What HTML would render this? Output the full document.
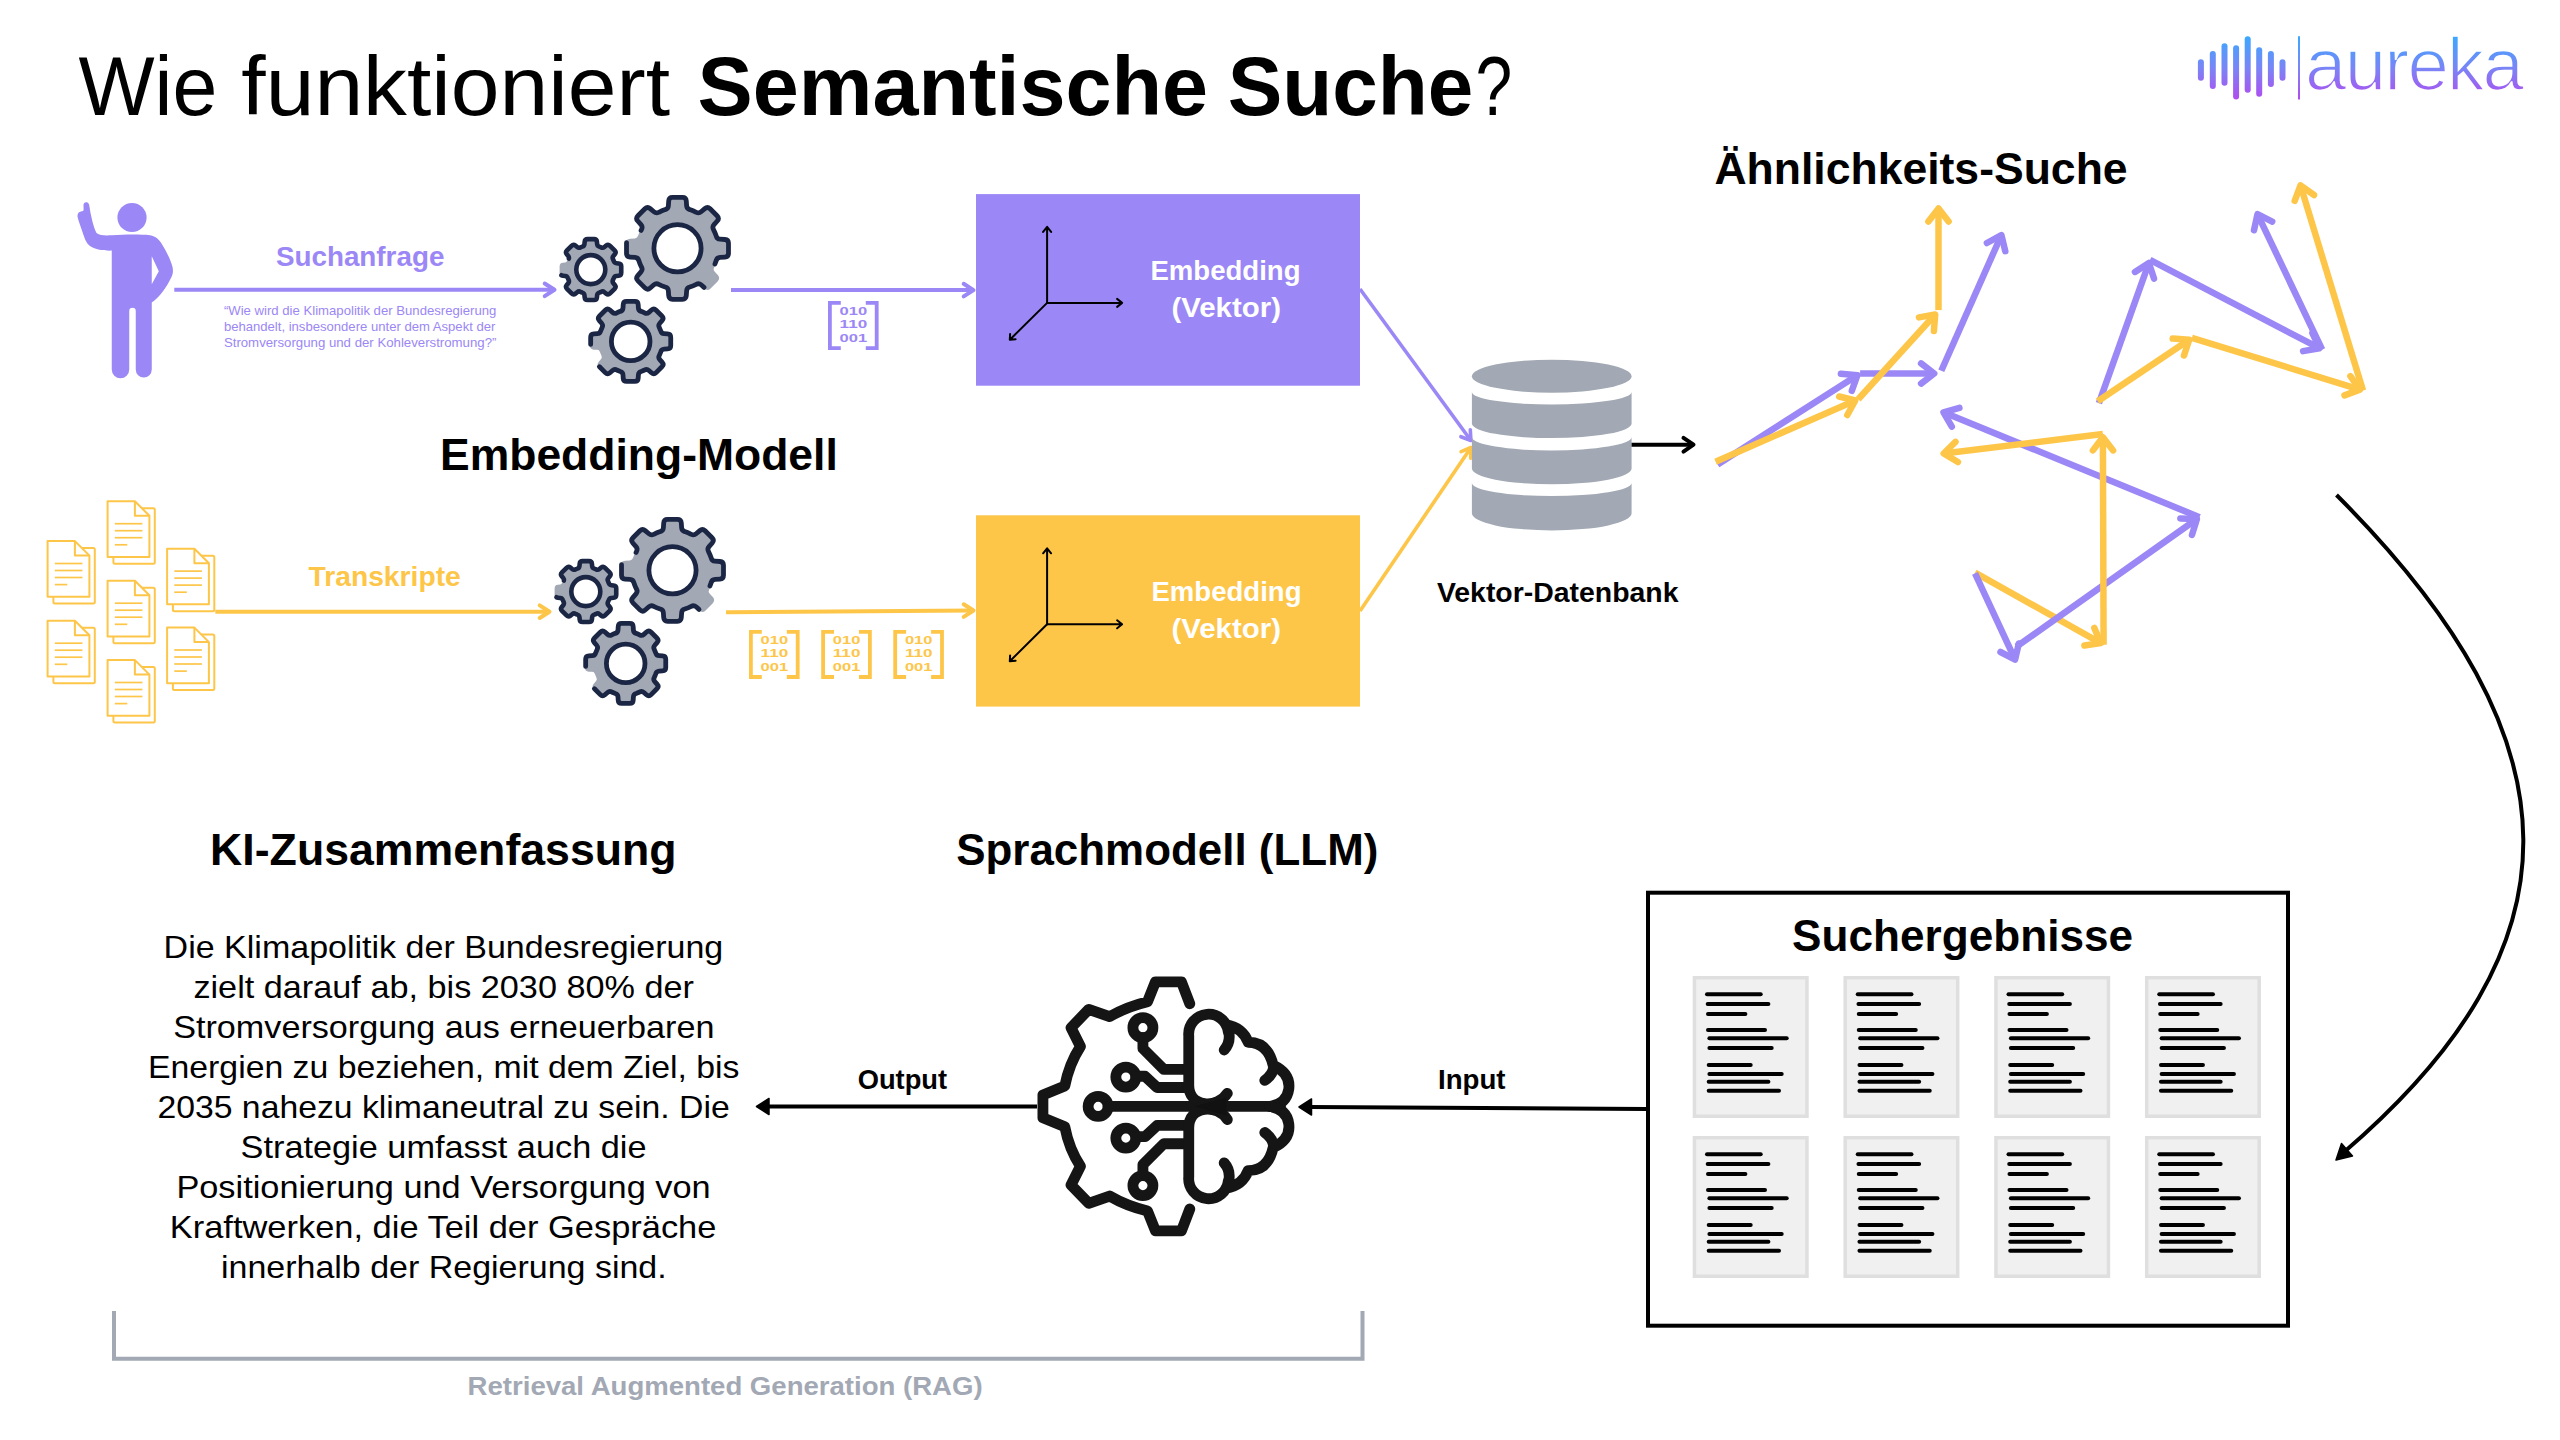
<!DOCTYPE html><html><head><meta charset="utf-8"><style>html,body{margin:0;padding:0;background:#fff}svg{display:block}text{font-family:"Liberation Sans",sans-serif;white-space:pre}</style></head><body><svg width="2560" height="1440" viewBox="0 0 2560 1440">
<text x="78.40" y="115.0" font-size="84" font-weight="normal" fill="#000" textLength="138.90" lengthAdjust="spacingAndGlyphs" >Wie</text>
<text x="241.30" y="115.0" font-size="84" font-weight="normal" fill="#000" textLength="428.70" lengthAdjust="spacingAndGlyphs" >funktioniert</text>
<text x="697.60" y="115.0" font-size="84" font-weight="bold" fill="#000" textLength="510.50" lengthAdjust="spacingAndGlyphs" >Semantische</text>
<text x="1227.70" y="115.0" font-size="84" font-weight="bold" fill="#000" textLength="245.60" lengthAdjust="spacingAndGlyphs" >Suche</text>
<text x="1475.40" y="115.0" font-size="84" font-weight="normal" fill="#000" textLength="36.70" lengthAdjust="spacingAndGlyphs" >?</text>
<defs><linearGradient id="lg" gradientUnits="userSpaceOnUse" x1="0" y1="36" x2="0" y2="100"><stop offset="0" stop-color="#3aa8ff"/><stop offset="0.5" stop-color="#7a85f6"/><stop offset="1" stop-color="#b24aef"/></linearGradient></defs>
<line x1="2200.9" y1="62.2" x2="2200.9" y2="77.8" stroke="url(#lg)" stroke-width="6" stroke-linecap="round"/>
<line x1="2212.8" y1="53.9" x2="2212.8" y2="85.9" stroke="url(#lg)" stroke-width="6" stroke-linecap="round"/>
<line x1="2224.5" y1="46.3" x2="2224.5" y2="82.8" stroke="url(#lg)" stroke-width="6" stroke-linecap="round"/>
<line x1="2236.1" y1="48.2" x2="2236.1" y2="96.5" stroke="url(#lg)" stroke-width="6" stroke-linecap="round"/>
<line x1="2247.7" y1="39.25" x2="2247.7" y2="89.8" stroke="url(#lg)" stroke-width="6" stroke-linecap="round"/>
<line x1="2259.2" y1="50.2" x2="2259.2" y2="93.7" stroke="url(#lg)" stroke-width="6" stroke-linecap="round"/>
<line x1="2270.9" y1="53.9" x2="2270.9" y2="83.9" stroke="url(#lg)" stroke-width="6" stroke-linecap="round"/>
<line x1="2282.5" y1="62.2" x2="2282.5" y2="77.8" stroke="url(#lg)" stroke-width="6" stroke-linecap="round"/>
<rect x="2298" y="36.2" width="2" height="63.3" fill="url(#lg)"/>
<text x="2305" y="90.3" font-size="74.5" fill="url(#lg)" stroke="#fff" stroke-width="1.7" textLength="219" lengthAdjust="spacing">aureka</text>
<circle cx="132" cy="217.5" r="14.6" fill="#9b87f5"/>
<path fill="#9b87f5" fill-rule="evenodd" d="M86.3 202.3 C88.2 202.3 89 203.6 89.3 205.5 C90.5 214 93 226 96.5 233 C100 235.8 106 235.6 112 235.3 C124 234.4 140 234.2 150 235.2 C156 236.2 159 239.5 161.5 243.5 C166 250.5 170.5 259.5 172.5 267 C173.3 271 173 274 171.5 277 C167 286.5 160 297 151.75 302.5 V369.5 A8 8 0 0 1 135.75 369.5 V311 A3.25 3.25 0 0 0 129.25 311 V369.5 A8.75 8.75 0 0 1 111.75 369.5 V250.6 C104 250.8 96 250 90 246 C86 243 84.5 238 82.5 232 C80.5 226 78.5 221 77.6 217 C77 213.5 79 211.5 82 211.2 C83.2 211.1 83.6 210.5 83.6 209.5 L83.5 205 C83.5 203.5 84.6 202.3 86.3 202.3 Z M151.75 256.2 V284.2 L158.8 271.2 Z"/>
<path d="M174.3 289.8 L554.5 289.8" stroke="#9b87f5" stroke-width="4" fill="none"/>
<path d="M544.7 283.5 L554.5 289.8 L544.7 296.1" stroke="#9b87f5" stroke-width="4" fill="none" stroke-linecap="round" stroke-linejoin="round"/>
<text x="275.90" y="266.3" font-size="27.5" font-weight="bold" fill="#9b87f5" textLength="168.50" lengthAdjust="spacingAndGlyphs" >Suchanfrage</text>
<text x="223.90" y="315.0" font-size="13" font-weight="normal" fill="#9b87f5" textLength="272.50" lengthAdjust="spacingAndGlyphs" >“Wie wird die Klimapolitik der Bundesregierung</text>
<text x="223.90" y="331.3" font-size="13" font-weight="normal" fill="#9b87f5" textLength="271.50" lengthAdjust="spacingAndGlyphs" >behandelt, insbesondere unter dem Aspekt der</text>
<text x="223.90" y="347.0" font-size="13" font-weight="normal" fill="#9b87f5" textLength="272.50" lengthAdjust="spacingAndGlyphs" >Stromversorgung und der Kohleverstromung?”</text>
<g transform="translate(0,0)">
<path d="M582.36 246.60 Q584.27 245.99 584.46 244.00 L584.69 241.75 Q584.95 239.16 587.55 239.16 L594.05 239.16 Q596.65 239.16 596.91 241.75 L597.14 244.00 Q597.33 245.99 599.24 246.60 A24.5 24.5 0 0 1 601.10 247.37 Q602.88 248.28 604.42 247.02 L606.17 245.58 Q608.19 243.93 610.02 245.77 L614.63 250.38 Q616.47 252.21 614.82 254.23 L613.38 255.98 Q612.12 257.52 613.03 259.30 A24.5 24.5 0 0 1 613.80 261.16 Q614.41 263.07 616.40 263.26 L618.65 263.49 Q621.24 263.75 621.24 266.35 L621.24 272.85 Q621.24 275.45 618.65 275.71 L616.40 275.94 Q614.41 276.13 613.80 278.04 A24.5 24.5 0 0 1 613.03 279.90 Q612.12 281.68 613.38 283.22 L614.82 284.97 Q616.47 286.99 614.63 288.82 L610.02 293.43 Q608.19 295.27 606.17 293.62 L604.42 292.18 Q602.88 290.92 601.10 291.83 A24.5 24.5 0 0 1 599.24 292.60 Q597.33 293.21 597.14 295.20 L596.91 297.45 Q596.65 300.04 594.05 300.04 L587.55 300.04 Q584.95 300.04 584.69 297.45 L584.46 295.20 Q584.27 293.21 582.36 292.60 A24.5 24.5 0 0 1 580.50 291.83 Q578.72 290.92 577.18 292.18 L575.43 293.62 Q573.41 295.27 571.58 293.43 L566.97 288.82 Q565.13 286.99 566.78 284.97 L568.22 283.22 Q569.48 281.68 568.57 279.90 A24.5 24.5 0 0 1 567.80 278.04 Q567.19 276.13 565.20 275.94 L562.95 275.71 Q560.36 275.45 560.36 272.85 L560.36 266.35 Q560.36 263.75 562.95 263.49 L565.20 263.26 Q567.19 263.07 567.80 261.16 A24.5 24.5 0 0 1 568.57 259.30 Q569.48 257.52 568.22 255.98 L566.78 254.23 Q565.13 252.21 566.97 250.38 L571.58 245.77 Q573.41 243.93 575.43 245.58 L577.18 247.02 Q578.72 248.28 580.50 247.37 A24.5 24.5 0 0 1 582.36 246.60 Z" fill="#a2a8b4" stroke="#a2a8b4" stroke-width="1.5" stroke-linejoin="round"/>
<path d="M582.36 246.60 Q584.27 245.99 584.46 244.00 L584.69 241.75 Q584.95 239.16 587.55 239.16 L594.05 239.16 Q596.65 239.16 596.91 241.75 L597.14 244.00 Q597.33 245.99 599.24 246.60 A24.5 24.5 0 0 1 601.10 247.37 Q602.88 248.28 604.42 247.02 L606.17 245.58 Q608.19 243.93 610.02 245.77 L614.63 250.38 Q616.47 252.21 614.82 254.23 L613.38 255.98 Q612.12 257.52 613.03 259.30 A24.5 24.5 0 0 1 613.80 261.16 Q614.41 263.07 616.40 263.26 L618.65 263.49 Q621.24 263.75 621.24 266.35 L621.24 272.85 Q621.24 275.45 618.65 275.71 L616.40 275.94 Q614.41 276.13 613.80 278.04 A24.5 24.5 0 0 1 613.03 279.90 Q612.12 281.68 613.38 283.22 L614.82 284.97 Q616.47 286.99 614.63 288.82 L610.02 293.43 Q608.19 295.27 606.17 293.62 L604.42 292.18 Q602.88 290.92 601.10 291.83 A24.5 24.5 0 0 1 599.24 292.60 Q597.33 293.21 597.14 295.20 L596.91 297.45 Q596.65 300.04 594.05 300.04 L587.55 300.04 Q584.95 300.04 584.69 297.45 L584.46 295.20 Q584.27 293.21 582.36 292.60 A24.5 24.5 0 0 1 580.50 291.83 Q578.72 290.92 577.18 292.18 L575.43 293.62 Q573.41 295.27 571.58 293.43 L566.97 288.82 Q565.13 286.99 566.78 284.97 L568.22 283.22 Q569.48 281.68 568.57 279.90 A24.5 24.5 0 0 1 567.80 278.04 Q567.19 276.13 565.20 275.94 L562.95 275.71 Q560.36 275.45 560.36 272.85 L560.36 266.35 Q560.36 263.75 562.95 263.49 L565.20 263.26 Q567.19 263.07 567.80 261.16 A24.5 24.5 0 0 1 568.57 259.30 Q569.48 257.52 568.22 255.98 L566.78 254.23 Q565.13 252.21 566.97 250.38 L571.58 245.77 Q573.41 243.93 575.43 245.58 L577.18 247.02 Q578.72 248.28 580.50 247.37 A24.5 24.5 0 0 1 582.36 246.60 Z" fill="none" stroke="#1b2645" stroke-width="4.6" stroke-linejoin="round" stroke-linecap="round" pathLength="800" stroke-dasharray="625 77 98"/>
<circle cx="590.8" cy="269.6" r="14.5" fill="#fff" stroke="#1b2645" stroke-width="4.6"/>
<path d="M665.27 209.58 Q668.17 208.79 668.37 205.79 L668.71 200.90 Q668.96 197.31 672.56 197.31 L682.44 197.31 Q686.04 197.31 686.29 200.90 L686.63 205.79 Q686.83 208.79 689.73 209.58 A40.6 40.6 0 0 1 696.23 212.28 Q698.84 213.76 701.10 211.79 L704.80 208.57 Q707.51 206.20 710.06 208.75 L717.05 215.74 Q719.60 218.29 717.23 221.00 L714.01 224.70 Q712.04 226.96 713.52 229.57 A40.6 40.6 0 0 1 716.22 236.07 Q717.01 238.97 720.01 239.17 L724.90 239.51 Q728.49 239.76 728.49 243.36 L728.49 253.24 Q728.49 256.84 724.90 257.09 L720.01 257.43 Q717.01 257.63 716.22 260.53 A40.6 40.6 0 0 1 713.52 267.03 Q712.04 269.64 714.01 271.90 L717.23 275.60 Q719.60 278.31 717.05 280.86 L710.06 287.85 Q707.51 290.40 704.80 288.03 L701.10 284.81 Q698.84 282.84 696.23 284.32 A40.6 40.6 0 0 1 689.73 287.02 Q686.83 287.81 686.63 290.81 L686.29 295.70 Q686.04 299.29 682.44 299.29 L672.56 299.29 Q668.96 299.29 668.71 295.70 L668.37 290.81 Q668.17 287.81 665.27 287.02 A40.6 40.6 0 0 1 658.77 284.32 Q656.16 282.84 653.90 284.81 L650.20 288.03 Q647.49 290.40 644.94 287.85 L637.95 280.86 Q635.40 278.31 637.77 275.60 L640.99 271.90 Q642.96 269.64 641.48 267.03 A40.6 40.6 0 0 1 638.78 260.53 Q637.99 257.63 634.99 257.43 L630.10 257.09 Q626.51 256.84 626.51 253.24 L626.51 243.36 Q626.51 239.76 630.10 239.51 L634.99 239.17 Q637.99 238.97 638.78 236.07 A40.6 40.6 0 0 1 641.48 229.57 Q642.96 226.96 640.99 224.70 L637.77 221.00 Q635.40 218.29 637.95 215.74 L644.94 208.75 Q647.49 206.20 650.20 208.57 L653.90 211.79 Q656.16 213.76 658.77 212.28 A40.6 40.6 0 0 1 665.27 209.58 Z" fill="#a2a8b4" stroke="#a2a8b4" stroke-width="1.5" stroke-linejoin="round"/>
<path d="M665.27 209.58 Q668.17 208.79 668.37 205.79 L668.71 200.90 Q668.96 197.31 672.56 197.31 L682.44 197.31 Q686.04 197.31 686.29 200.90 L686.63 205.79 Q686.83 208.79 689.73 209.58 A40.6 40.6 0 0 1 696.23 212.28 Q698.84 213.76 701.10 211.79 L704.80 208.57 Q707.51 206.20 710.06 208.75 L717.05 215.74 Q719.60 218.29 717.23 221.00 L714.01 224.70 Q712.04 226.96 713.52 229.57 A40.6 40.6 0 0 1 716.22 236.07 Q717.01 238.97 720.01 239.17 L724.90 239.51 Q728.49 239.76 728.49 243.36 L728.49 253.24 Q728.49 256.84 724.90 257.09 L720.01 257.43 Q717.01 257.63 716.22 260.53 A40.6 40.6 0 0 1 713.52 267.03 Q712.04 269.64 714.01 271.90 L717.23 275.60 Q719.60 278.31 717.05 280.86 L710.06 287.85 Q707.51 290.40 704.80 288.03 L701.10 284.81 Q698.84 282.84 696.23 284.32 A40.6 40.6 0 0 1 689.73 287.02 Q686.83 287.81 686.63 290.81 L686.29 295.70 Q686.04 299.29 682.44 299.29 L672.56 299.29 Q668.96 299.29 668.71 295.70 L668.37 290.81 Q668.17 287.81 665.27 287.02 A40.6 40.6 0 0 1 658.77 284.32 Q656.16 282.84 653.90 284.81 L650.20 288.03 Q647.49 290.40 644.94 287.85 L637.95 280.86 Q635.40 278.31 637.77 275.60 L640.99 271.90 Q642.96 269.64 641.48 267.03 A40.6 40.6 0 0 1 638.78 260.53 Q637.99 257.63 634.99 257.43 L630.10 257.09 Q626.51 256.84 626.51 253.24 L626.51 243.36 Q626.51 239.76 630.10 239.51 L634.99 239.17 Q637.99 238.97 638.78 236.07 A40.6 40.6 0 0 1 641.48 229.57 Q642.96 226.96 640.99 224.70 L637.77 221.00 Q635.40 218.29 637.95 215.74 L644.94 208.75 Q647.49 206.20 650.20 208.57 L653.90 211.79 Q656.16 213.76 658.77 212.28 A40.6 40.6 0 0 1 665.27 209.58 Z" fill="none" stroke="#1b2645" stroke-width="4.8" stroke-linejoin="round" stroke-linecap="round" pathLength="800" stroke-dasharray="293 74 287 44 102"/>
<circle cx="677.5" cy="248.3" r="23.6" fill="#fff" stroke="#1b2645" stroke-width="4.8"/>
<path d="M620.34 311.33 Q622.83 310.59 623.00 307.99 L623.21 304.55 Q623.41 301.36 626.61 301.36 L634.79 301.36 Q637.99 301.36 638.19 304.55 L638.40 307.99 Q638.57 310.59 641.06 311.33 A31.8 31.8 0 0 1 644.64 312.82 Q646.92 314.05 648.87 312.33 L651.46 310.05 Q653.86 307.93 656.12 310.20 L661.90 315.98 Q664.17 318.24 662.05 320.64 L659.77 323.23 Q658.05 325.18 659.28 327.46 A31.8 31.8 0 0 1 660.77 331.04 Q661.51 333.53 664.11 333.70 L667.55 333.91 Q670.74 334.11 670.74 337.31 L670.74 345.49 Q670.74 348.69 667.55 348.89 L664.11 349.10 Q661.51 349.27 660.77 351.76 A31.8 31.8 0 0 1 659.28 355.34 Q658.05 357.62 659.77 359.57 L662.05 362.16 Q664.17 364.56 661.90 366.82 L656.12 372.60 Q653.86 374.87 651.46 372.75 L648.87 370.47 Q646.92 368.75 644.64 369.98 A31.8 31.8 0 0 1 641.06 371.47 Q638.57 372.21 638.40 374.81 L638.19 378.25 Q637.99 381.44 634.79 381.44 L626.61 381.44 Q623.41 381.44 623.21 378.25 L623.00 374.81 Q622.83 372.21 620.34 371.47 A31.8 31.8 0 0 1 616.76 369.98 Q614.48 368.75 612.53 370.47 L609.94 372.75 Q607.54 374.87 605.28 372.60 L599.50 366.82 Q597.23 364.56 599.35 362.16 L601.63 359.57 Q603.35 357.62 602.12 355.34 A31.8 31.8 0 0 1 600.63 351.76 Q599.89 349.27 597.29 349.10 L593.85 348.89 Q590.66 348.69 590.66 345.49 L590.66 337.31 Q590.66 334.11 593.85 333.91 L597.29 333.70 Q599.89 333.53 600.63 331.04 A31.8 31.8 0 0 1 602.12 327.46 Q603.35 325.18 601.63 323.23 L599.35 320.64 Q597.23 318.24 599.50 315.98 L605.28 310.20 Q607.54 307.93 609.94 310.05 L612.53 312.33 Q614.48 314.05 616.76 312.82 A31.8 31.8 0 0 1 620.34 311.33 Z" fill="#a2a8b4" stroke="#a2a8b4" stroke-width="1.5" stroke-linejoin="round"/>
<path d="M620.34 311.33 Q622.83 310.59 623.00 307.99 L623.21 304.55 Q623.41 301.36 626.61 301.36 L634.79 301.36 Q637.99 301.36 638.19 304.55 L638.40 307.99 Q638.57 310.59 641.06 311.33 A31.8 31.8 0 0 1 644.64 312.82 Q646.92 314.05 648.87 312.33 L651.46 310.05 Q653.86 307.93 656.12 310.20 L661.90 315.98 Q664.17 318.24 662.05 320.64 L659.77 323.23 Q658.05 325.18 659.28 327.46 A31.8 31.8 0 0 1 660.77 331.04 Q661.51 333.53 664.11 333.70 L667.55 333.91 Q670.74 334.11 670.74 337.31 L670.74 345.49 Q670.74 348.69 667.55 348.89 L664.11 349.10 Q661.51 349.27 660.77 351.76 A31.8 31.8 0 0 1 659.28 355.34 Q658.05 357.62 659.77 359.57 L662.05 362.16 Q664.17 364.56 661.90 366.82 L656.12 372.60 Q653.86 374.87 651.46 372.75 L648.87 370.47 Q646.92 368.75 644.64 369.98 A31.8 31.8 0 0 1 641.06 371.47 Q638.57 372.21 638.40 374.81 L638.19 378.25 Q637.99 381.44 634.79 381.44 L626.61 381.44 Q623.41 381.44 623.21 378.25 L623.00 374.81 Q622.83 372.21 620.34 371.47 A31.8 31.8 0 0 1 616.76 369.98 Q614.48 368.75 612.53 370.47 L609.94 372.75 Q607.54 374.87 605.28 372.60 L599.50 366.82 Q597.23 364.56 599.35 362.16 L601.63 359.57 Q603.35 357.62 602.12 355.34 A31.8 31.8 0 0 1 600.63 351.76 Q599.89 349.27 597.29 349.10 L593.85 348.89 Q590.66 348.69 590.66 345.49 L590.66 337.31 Q590.66 334.11 593.85 333.91 L597.29 333.70 Q599.89 333.53 600.63 331.04 A31.8 31.8 0 0 1 602.12 327.46 Q603.35 325.18 601.63 323.23 L599.35 320.64 Q597.23 318.24 599.50 315.98 L605.28 310.20 Q607.54 307.93 609.94 310.05 L612.53 312.33 Q614.48 314.05 616.76 312.82 A31.8 31.8 0 0 1 620.34 311.33 Z" fill="none" stroke="#1b2645" stroke-width="4.8" stroke-linejoin="round" stroke-linecap="round" pathLength="800" stroke-dasharray="556 81 163"/>
<circle cx="630.7" cy="341.4" r="19.3" fill="#fff" stroke="#1b2645" stroke-width="4.8"/>
</g>
<path d="M731.0 290.1 L973.5 290.1" stroke="#9b87f5" stroke-width="4" fill="none"/>
<path d="M963.7 283.8 L973.5 290.1 L963.7 296.4" stroke="#9b87f5" stroke-width="4" fill="none" stroke-linecap="round" stroke-linejoin="round"/>
<path d="M840.8 302.9 H829.9 V348.1 H840.8 M865.8 302.9 H876.7 V348.1 H865.8" stroke="#9b87f5" stroke-width="3.8" fill="none"/>
<text x="839.6" y="315.0" font-family="Liberation Mono" font-weight="bold" font-size="11.7" fill="#9b87f5" textLength="27.6" lengthAdjust="spacingAndGlyphs">010</text>
<text x="839.6" y="328.4" font-family="Liberation Mono" font-weight="bold" font-size="11.7" fill="#9b87f5" textLength="27.6" lengthAdjust="spacingAndGlyphs">110</text>
<text x="839.6" y="341.8" font-family="Liberation Mono" font-weight="bold" font-size="11.7" fill="#9b87f5" textLength="27.6" lengthAdjust="spacingAndGlyphs">001</text>
<rect x="976" y="194.1" width="384" height="191.6" fill="#9b87f5"/>
<g stroke="#000" stroke-width="2" fill="none" stroke-linecap="round" stroke-linejoin="round">
<path d="M1047.1 302.9 V227.39999999999998 M1043.1 231.89999999999998 L1047.1 226.89999999999998 L1051.1 231.89999999999998"/>
<path d="M1047.1 302.9 H1121.6 M1117.1 298.9 L1122.1 302.9 L1117.1 306.9"/>
<path d="M1047.1 302.9 L1009.8 339.79999999999995 M1010.0999999999999 333.99999999999994 L1009.8 339.79999999999995 L1015.5999999999999 339.29999999999995"/>
</g>
<text x="1150.50" y="279.7" font-size="27.5" font-weight="bold" fill="#fff" textLength="150.00" lengthAdjust="spacingAndGlyphs" >Embedding</text>
<text x="1171.40" y="317.0" font-size="27.5" font-weight="bold" fill="#fff" textLength="109.60" lengthAdjust="spacingAndGlyphs" >(Vektor)</text>
<rect x="53.4" y="548.1" width="41.4" height="55.5" rx="1.5" fill="#fff" stroke="#fdc649" stroke-width="2.0"/>
<path d="M47.6 541.1 H74.9 L89.4 555.6 V596.7 H47.6 Z" fill="#fff" stroke="#fdc649" stroke-width="2.0" stroke-linejoin="round"/>
<path d="M74.9 541.1 V555.6 H89.4" fill="none" stroke="#fdc649" stroke-width="2.0" stroke-linejoin="round"/>
<line x1="54.800000000000004" y1="563.5" x2="82.4" y2="563.5" stroke="#fdc649" stroke-width="1.7"/>
<line x1="54.800000000000004" y1="570.5" x2="82.4" y2="570.5" stroke="#fdc649" stroke-width="1.7"/>
<line x1="54.800000000000004" y1="577.5" x2="82.4" y2="577.5" stroke="#fdc649" stroke-width="1.7"/>
<line x1="54.800000000000004" y1="584.6" x2="67.3" y2="584.6" stroke="#fdc649" stroke-width="1.7"/>
<rect x="113.39999999999999" y="508.3" width="41.4" height="55.5" rx="1.5" fill="#fff" stroke="#fdc649" stroke-width="2.0"/>
<path d="M107.6 501.3 H134.9 L149.39999999999998 515.8 V556.9 H107.6 Z" fill="#fff" stroke="#fdc649" stroke-width="2.0" stroke-linejoin="round"/>
<path d="M134.9 501.3 V515.8 H149.39999999999998" fill="none" stroke="#fdc649" stroke-width="2.0" stroke-linejoin="round"/>
<line x1="114.8" y1="523.7" x2="142.39999999999998" y2="523.7" stroke="#fdc649" stroke-width="1.7"/>
<line x1="114.8" y1="530.7" x2="142.39999999999998" y2="530.7" stroke="#fdc649" stroke-width="1.7"/>
<line x1="114.8" y1="537.7" x2="142.39999999999998" y2="537.7" stroke="#fdc649" stroke-width="1.7"/>
<line x1="114.8" y1="544.8" x2="127.3" y2="544.8" stroke="#fdc649" stroke-width="1.7"/>
<rect x="113.39999999999999" y="587.8" width="41.4" height="55.5" rx="1.5" fill="#fff" stroke="#fdc649" stroke-width="2.0"/>
<path d="M107.6 580.8 H134.9 L149.39999999999998 595.3 V636.4 H107.6 Z" fill="#fff" stroke="#fdc649" stroke-width="2.0" stroke-linejoin="round"/>
<path d="M134.9 580.8 V595.3 H149.39999999999998" fill="none" stroke="#fdc649" stroke-width="2.0" stroke-linejoin="round"/>
<line x1="114.8" y1="603.1999999999999" x2="142.39999999999998" y2="603.1999999999999" stroke="#fdc649" stroke-width="1.7"/>
<line x1="114.8" y1="610.1999999999999" x2="142.39999999999998" y2="610.1999999999999" stroke="#fdc649" stroke-width="1.7"/>
<line x1="114.8" y1="617.1999999999999" x2="142.39999999999998" y2="617.1999999999999" stroke="#fdc649" stroke-width="1.7"/>
<line x1="114.8" y1="624.3" x2="127.3" y2="624.3" stroke="#fdc649" stroke-width="1.7"/>
<rect x="53.4" y="627.8" width="41.4" height="55.5" rx="1.5" fill="#fff" stroke="#fdc649" stroke-width="2.0"/>
<path d="M47.6 620.8 H74.9 L89.4 635.3 V676.4 H47.6 Z" fill="#fff" stroke="#fdc649" stroke-width="2.0" stroke-linejoin="round"/>
<path d="M74.9 620.8 V635.3 H89.4" fill="none" stroke="#fdc649" stroke-width="2.0" stroke-linejoin="round"/>
<line x1="54.800000000000004" y1="643.1999999999999" x2="82.4" y2="643.1999999999999" stroke="#fdc649" stroke-width="1.7"/>
<line x1="54.800000000000004" y1="650.1999999999999" x2="82.4" y2="650.1999999999999" stroke="#fdc649" stroke-width="1.7"/>
<line x1="54.800000000000004" y1="657.1999999999999" x2="82.4" y2="657.1999999999999" stroke="#fdc649" stroke-width="1.7"/>
<line x1="54.800000000000004" y1="664.3" x2="67.3" y2="664.3" stroke="#fdc649" stroke-width="1.7"/>
<rect x="172.9" y="555.7" width="41.4" height="55.5" rx="1.5" fill="#fff" stroke="#fdc649" stroke-width="2.0"/>
<path d="M167.1 548.7 H194.4 L208.89999999999998 563.2 V604.3000000000001 H167.1 Z" fill="#fff" stroke="#fdc649" stroke-width="2.0" stroke-linejoin="round"/>
<path d="M194.4 548.7 V563.2 H208.89999999999998" fill="none" stroke="#fdc649" stroke-width="2.0" stroke-linejoin="round"/>
<line x1="174.29999999999998" y1="571.1" x2="201.89999999999998" y2="571.1" stroke="#fdc649" stroke-width="1.7"/>
<line x1="174.29999999999998" y1="578.1" x2="201.89999999999998" y2="578.1" stroke="#fdc649" stroke-width="1.7"/>
<line x1="174.29999999999998" y1="585.1" x2="201.89999999999998" y2="585.1" stroke="#fdc649" stroke-width="1.7"/>
<line x1="174.29999999999998" y1="592.2" x2="186.79999999999998" y2="592.2" stroke="#fdc649" stroke-width="1.7"/>
<rect x="172.9" y="634.6" width="41.4" height="55.5" rx="1.5" fill="#fff" stroke="#fdc649" stroke-width="2.0"/>
<path d="M167.1 627.6 H194.4 L208.89999999999998 642.1 V683.2 H167.1 Z" fill="#fff" stroke="#fdc649" stroke-width="2.0" stroke-linejoin="round"/>
<path d="M194.4 627.6 V642.1 H208.89999999999998" fill="none" stroke="#fdc649" stroke-width="2.0" stroke-linejoin="round"/>
<line x1="174.29999999999998" y1="650.0" x2="201.89999999999998" y2="650.0" stroke="#fdc649" stroke-width="1.7"/>
<line x1="174.29999999999998" y1="657.0" x2="201.89999999999998" y2="657.0" stroke="#fdc649" stroke-width="1.7"/>
<line x1="174.29999999999998" y1="664.0" x2="201.89999999999998" y2="664.0" stroke="#fdc649" stroke-width="1.7"/>
<line x1="174.29999999999998" y1="671.1" x2="186.79999999999998" y2="671.1" stroke="#fdc649" stroke-width="1.7"/>
<rect x="113.39999999999999" y="667.1" width="41.4" height="55.5" rx="1.5" fill="#fff" stroke="#fdc649" stroke-width="2.0"/>
<path d="M107.6 660.1 H134.9 L149.39999999999998 674.6 V715.7 H107.6 Z" fill="#fff" stroke="#fdc649" stroke-width="2.0" stroke-linejoin="round"/>
<path d="M134.9 660.1 V674.6 H149.39999999999998" fill="none" stroke="#fdc649" stroke-width="2.0" stroke-linejoin="round"/>
<line x1="114.8" y1="682.5" x2="142.39999999999998" y2="682.5" stroke="#fdc649" stroke-width="1.7"/>
<line x1="114.8" y1="689.5" x2="142.39999999999998" y2="689.5" stroke="#fdc649" stroke-width="1.7"/>
<line x1="114.8" y1="696.5" x2="142.39999999999998" y2="696.5" stroke="#fdc649" stroke-width="1.7"/>
<line x1="114.8" y1="703.6" x2="127.3" y2="703.6" stroke="#fdc649" stroke-width="1.7"/>
<path d="M215.3 611.7 L549.5 611.7" stroke="#fdc649" stroke-width="4" fill="none"/>
<path d="M539.7 605.4 L549.5 611.7 L539.7 618.0" stroke="#fdc649" stroke-width="4" fill="none" stroke-linecap="round" stroke-linejoin="round"/>
<text x="308.50" y="585.6" font-size="27.5" font-weight="bold" fill="#fdc649" textLength="152.30" lengthAdjust="spacingAndGlyphs" >Transkripte</text>
<g transform="translate(-5,322)">
<path d="M582.36 246.60 Q584.27 245.99 584.46 244.00 L584.69 241.75 Q584.95 239.16 587.55 239.16 L594.05 239.16 Q596.65 239.16 596.91 241.75 L597.14 244.00 Q597.33 245.99 599.24 246.60 A24.5 24.5 0 0 1 601.10 247.37 Q602.88 248.28 604.42 247.02 L606.17 245.58 Q608.19 243.93 610.02 245.77 L614.63 250.38 Q616.47 252.21 614.82 254.23 L613.38 255.98 Q612.12 257.52 613.03 259.30 A24.5 24.5 0 0 1 613.80 261.16 Q614.41 263.07 616.40 263.26 L618.65 263.49 Q621.24 263.75 621.24 266.35 L621.24 272.85 Q621.24 275.45 618.65 275.71 L616.40 275.94 Q614.41 276.13 613.80 278.04 A24.5 24.5 0 0 1 613.03 279.90 Q612.12 281.68 613.38 283.22 L614.82 284.97 Q616.47 286.99 614.63 288.82 L610.02 293.43 Q608.19 295.27 606.17 293.62 L604.42 292.18 Q602.88 290.92 601.10 291.83 A24.5 24.5 0 0 1 599.24 292.60 Q597.33 293.21 597.14 295.20 L596.91 297.45 Q596.65 300.04 594.05 300.04 L587.55 300.04 Q584.95 300.04 584.69 297.45 L584.46 295.20 Q584.27 293.21 582.36 292.60 A24.5 24.5 0 0 1 580.50 291.83 Q578.72 290.92 577.18 292.18 L575.43 293.62 Q573.41 295.27 571.58 293.43 L566.97 288.82 Q565.13 286.99 566.78 284.97 L568.22 283.22 Q569.48 281.68 568.57 279.90 A24.5 24.5 0 0 1 567.80 278.04 Q567.19 276.13 565.20 275.94 L562.95 275.71 Q560.36 275.45 560.36 272.85 L560.36 266.35 Q560.36 263.75 562.95 263.49 L565.20 263.26 Q567.19 263.07 567.80 261.16 A24.5 24.5 0 0 1 568.57 259.30 Q569.48 257.52 568.22 255.98 L566.78 254.23 Q565.13 252.21 566.97 250.38 L571.58 245.77 Q573.41 243.93 575.43 245.58 L577.18 247.02 Q578.72 248.28 580.50 247.37 A24.5 24.5 0 0 1 582.36 246.60 Z" fill="#a2a8b4" stroke="#a2a8b4" stroke-width="1.5" stroke-linejoin="round"/>
<path d="M582.36 246.60 Q584.27 245.99 584.46 244.00 L584.69 241.75 Q584.95 239.16 587.55 239.16 L594.05 239.16 Q596.65 239.16 596.91 241.75 L597.14 244.00 Q597.33 245.99 599.24 246.60 A24.5 24.5 0 0 1 601.10 247.37 Q602.88 248.28 604.42 247.02 L606.17 245.58 Q608.19 243.93 610.02 245.77 L614.63 250.38 Q616.47 252.21 614.82 254.23 L613.38 255.98 Q612.12 257.52 613.03 259.30 A24.5 24.5 0 0 1 613.80 261.16 Q614.41 263.07 616.40 263.26 L618.65 263.49 Q621.24 263.75 621.24 266.35 L621.24 272.85 Q621.24 275.45 618.65 275.71 L616.40 275.94 Q614.41 276.13 613.80 278.04 A24.5 24.5 0 0 1 613.03 279.90 Q612.12 281.68 613.38 283.22 L614.82 284.97 Q616.47 286.99 614.63 288.82 L610.02 293.43 Q608.19 295.27 606.17 293.62 L604.42 292.18 Q602.88 290.92 601.10 291.83 A24.5 24.5 0 0 1 599.24 292.60 Q597.33 293.21 597.14 295.20 L596.91 297.45 Q596.65 300.04 594.05 300.04 L587.55 300.04 Q584.95 300.04 584.69 297.45 L584.46 295.20 Q584.27 293.21 582.36 292.60 A24.5 24.5 0 0 1 580.50 291.83 Q578.72 290.92 577.18 292.18 L575.43 293.62 Q573.41 295.27 571.58 293.43 L566.97 288.82 Q565.13 286.99 566.78 284.97 L568.22 283.22 Q569.48 281.68 568.57 279.90 A24.5 24.5 0 0 1 567.80 278.04 Q567.19 276.13 565.20 275.94 L562.95 275.71 Q560.36 275.45 560.36 272.85 L560.36 266.35 Q560.36 263.75 562.95 263.49 L565.20 263.26 Q567.19 263.07 567.80 261.16 A24.5 24.5 0 0 1 568.57 259.30 Q569.48 257.52 568.22 255.98 L566.78 254.23 Q565.13 252.21 566.97 250.38 L571.58 245.77 Q573.41 243.93 575.43 245.58 L577.18 247.02 Q578.72 248.28 580.50 247.37 A24.5 24.5 0 0 1 582.36 246.60 Z" fill="none" stroke="#1b2645" stroke-width="4.6" stroke-linejoin="round" stroke-linecap="round" pathLength="800" stroke-dasharray="625 77 98"/>
<circle cx="590.8" cy="269.6" r="14.5" fill="#fff" stroke="#1b2645" stroke-width="4.6"/>
<path d="M665.27 209.58 Q668.17 208.79 668.37 205.79 L668.71 200.90 Q668.96 197.31 672.56 197.31 L682.44 197.31 Q686.04 197.31 686.29 200.90 L686.63 205.79 Q686.83 208.79 689.73 209.58 A40.6 40.6 0 0 1 696.23 212.28 Q698.84 213.76 701.10 211.79 L704.80 208.57 Q707.51 206.20 710.06 208.75 L717.05 215.74 Q719.60 218.29 717.23 221.00 L714.01 224.70 Q712.04 226.96 713.52 229.57 A40.6 40.6 0 0 1 716.22 236.07 Q717.01 238.97 720.01 239.17 L724.90 239.51 Q728.49 239.76 728.49 243.36 L728.49 253.24 Q728.49 256.84 724.90 257.09 L720.01 257.43 Q717.01 257.63 716.22 260.53 A40.6 40.6 0 0 1 713.52 267.03 Q712.04 269.64 714.01 271.90 L717.23 275.60 Q719.60 278.31 717.05 280.86 L710.06 287.85 Q707.51 290.40 704.80 288.03 L701.10 284.81 Q698.84 282.84 696.23 284.32 A40.6 40.6 0 0 1 689.73 287.02 Q686.83 287.81 686.63 290.81 L686.29 295.70 Q686.04 299.29 682.44 299.29 L672.56 299.29 Q668.96 299.29 668.71 295.70 L668.37 290.81 Q668.17 287.81 665.27 287.02 A40.6 40.6 0 0 1 658.77 284.32 Q656.16 282.84 653.90 284.81 L650.20 288.03 Q647.49 290.40 644.94 287.85 L637.95 280.86 Q635.40 278.31 637.77 275.60 L640.99 271.90 Q642.96 269.64 641.48 267.03 A40.6 40.6 0 0 1 638.78 260.53 Q637.99 257.63 634.99 257.43 L630.10 257.09 Q626.51 256.84 626.51 253.24 L626.51 243.36 Q626.51 239.76 630.10 239.51 L634.99 239.17 Q637.99 238.97 638.78 236.07 A40.6 40.6 0 0 1 641.48 229.57 Q642.96 226.96 640.99 224.70 L637.77 221.00 Q635.40 218.29 637.95 215.74 L644.94 208.75 Q647.49 206.20 650.20 208.57 L653.90 211.79 Q656.16 213.76 658.77 212.28 A40.6 40.6 0 0 1 665.27 209.58 Z" fill="#a2a8b4" stroke="#a2a8b4" stroke-width="1.5" stroke-linejoin="round"/>
<path d="M665.27 209.58 Q668.17 208.79 668.37 205.79 L668.71 200.90 Q668.96 197.31 672.56 197.31 L682.44 197.31 Q686.04 197.31 686.29 200.90 L686.63 205.79 Q686.83 208.79 689.73 209.58 A40.6 40.6 0 0 1 696.23 212.28 Q698.84 213.76 701.10 211.79 L704.80 208.57 Q707.51 206.20 710.06 208.75 L717.05 215.74 Q719.60 218.29 717.23 221.00 L714.01 224.70 Q712.04 226.96 713.52 229.57 A40.6 40.6 0 0 1 716.22 236.07 Q717.01 238.97 720.01 239.17 L724.90 239.51 Q728.49 239.76 728.49 243.36 L728.49 253.24 Q728.49 256.84 724.90 257.09 L720.01 257.43 Q717.01 257.63 716.22 260.53 A40.6 40.6 0 0 1 713.52 267.03 Q712.04 269.64 714.01 271.90 L717.23 275.60 Q719.60 278.31 717.05 280.86 L710.06 287.85 Q707.51 290.40 704.80 288.03 L701.10 284.81 Q698.84 282.84 696.23 284.32 A40.6 40.6 0 0 1 689.73 287.02 Q686.83 287.81 686.63 290.81 L686.29 295.70 Q686.04 299.29 682.44 299.29 L672.56 299.29 Q668.96 299.29 668.71 295.70 L668.37 290.81 Q668.17 287.81 665.27 287.02 A40.6 40.6 0 0 1 658.77 284.32 Q656.16 282.84 653.90 284.81 L650.20 288.03 Q647.49 290.40 644.94 287.85 L637.95 280.86 Q635.40 278.31 637.77 275.60 L640.99 271.90 Q642.96 269.64 641.48 267.03 A40.6 40.6 0 0 1 638.78 260.53 Q637.99 257.63 634.99 257.43 L630.10 257.09 Q626.51 256.84 626.51 253.24 L626.51 243.36 Q626.51 239.76 630.10 239.51 L634.99 239.17 Q637.99 238.97 638.78 236.07 A40.6 40.6 0 0 1 641.48 229.57 Q642.96 226.96 640.99 224.70 L637.77 221.00 Q635.40 218.29 637.95 215.74 L644.94 208.75 Q647.49 206.20 650.20 208.57 L653.90 211.79 Q656.16 213.76 658.77 212.28 A40.6 40.6 0 0 1 665.27 209.58 Z" fill="none" stroke="#1b2645" stroke-width="4.8" stroke-linejoin="round" stroke-linecap="round" pathLength="800" stroke-dasharray="293 74 287 44 102"/>
<circle cx="677.5" cy="248.3" r="23.6" fill="#fff" stroke="#1b2645" stroke-width="4.8"/>
<path d="M620.34 311.33 Q622.83 310.59 623.00 307.99 L623.21 304.55 Q623.41 301.36 626.61 301.36 L634.79 301.36 Q637.99 301.36 638.19 304.55 L638.40 307.99 Q638.57 310.59 641.06 311.33 A31.8 31.8 0 0 1 644.64 312.82 Q646.92 314.05 648.87 312.33 L651.46 310.05 Q653.86 307.93 656.12 310.20 L661.90 315.98 Q664.17 318.24 662.05 320.64 L659.77 323.23 Q658.05 325.18 659.28 327.46 A31.8 31.8 0 0 1 660.77 331.04 Q661.51 333.53 664.11 333.70 L667.55 333.91 Q670.74 334.11 670.74 337.31 L670.74 345.49 Q670.74 348.69 667.55 348.89 L664.11 349.10 Q661.51 349.27 660.77 351.76 A31.8 31.8 0 0 1 659.28 355.34 Q658.05 357.62 659.77 359.57 L662.05 362.16 Q664.17 364.56 661.90 366.82 L656.12 372.60 Q653.86 374.87 651.46 372.75 L648.87 370.47 Q646.92 368.75 644.64 369.98 A31.8 31.8 0 0 1 641.06 371.47 Q638.57 372.21 638.40 374.81 L638.19 378.25 Q637.99 381.44 634.79 381.44 L626.61 381.44 Q623.41 381.44 623.21 378.25 L623.00 374.81 Q622.83 372.21 620.34 371.47 A31.8 31.8 0 0 1 616.76 369.98 Q614.48 368.75 612.53 370.47 L609.94 372.75 Q607.54 374.87 605.28 372.60 L599.50 366.82 Q597.23 364.56 599.35 362.16 L601.63 359.57 Q603.35 357.62 602.12 355.34 A31.8 31.8 0 0 1 600.63 351.76 Q599.89 349.27 597.29 349.10 L593.85 348.89 Q590.66 348.69 590.66 345.49 L590.66 337.31 Q590.66 334.11 593.85 333.91 L597.29 333.70 Q599.89 333.53 600.63 331.04 A31.8 31.8 0 0 1 602.12 327.46 Q603.35 325.18 601.63 323.23 L599.35 320.64 Q597.23 318.24 599.50 315.98 L605.28 310.20 Q607.54 307.93 609.94 310.05 L612.53 312.33 Q614.48 314.05 616.76 312.82 A31.8 31.8 0 0 1 620.34 311.33 Z" fill="#a2a8b4" stroke="#a2a8b4" stroke-width="1.5" stroke-linejoin="round"/>
<path d="M620.34 311.33 Q622.83 310.59 623.00 307.99 L623.21 304.55 Q623.41 301.36 626.61 301.36 L634.79 301.36 Q637.99 301.36 638.19 304.55 L638.40 307.99 Q638.57 310.59 641.06 311.33 A31.8 31.8 0 0 1 644.64 312.82 Q646.92 314.05 648.87 312.33 L651.46 310.05 Q653.86 307.93 656.12 310.20 L661.90 315.98 Q664.17 318.24 662.05 320.64 L659.77 323.23 Q658.05 325.18 659.28 327.46 A31.8 31.8 0 0 1 660.77 331.04 Q661.51 333.53 664.11 333.70 L667.55 333.91 Q670.74 334.11 670.74 337.31 L670.74 345.49 Q670.74 348.69 667.55 348.89 L664.11 349.10 Q661.51 349.27 660.77 351.76 A31.8 31.8 0 0 1 659.28 355.34 Q658.05 357.62 659.77 359.57 L662.05 362.16 Q664.17 364.56 661.90 366.82 L656.12 372.60 Q653.86 374.87 651.46 372.75 L648.87 370.47 Q646.92 368.75 644.64 369.98 A31.8 31.8 0 0 1 641.06 371.47 Q638.57 372.21 638.40 374.81 L638.19 378.25 Q637.99 381.44 634.79 381.44 L626.61 381.44 Q623.41 381.44 623.21 378.25 L623.00 374.81 Q622.83 372.21 620.34 371.47 A31.8 31.8 0 0 1 616.76 369.98 Q614.48 368.75 612.53 370.47 L609.94 372.75 Q607.54 374.87 605.28 372.60 L599.50 366.82 Q597.23 364.56 599.35 362.16 L601.63 359.57 Q603.35 357.62 602.12 355.34 A31.8 31.8 0 0 1 600.63 351.76 Q599.89 349.27 597.29 349.10 L593.85 348.89 Q590.66 348.69 590.66 345.49 L590.66 337.31 Q590.66 334.11 593.85 333.91 L597.29 333.70 Q599.89 333.53 600.63 331.04 A31.8 31.8 0 0 1 602.12 327.46 Q603.35 325.18 601.63 323.23 L599.35 320.64 Q597.23 318.24 599.50 315.98 L605.28 310.20 Q607.54 307.93 609.94 310.05 L612.53 312.33 Q614.48 314.05 616.76 312.82 A31.8 31.8 0 0 1 620.34 311.33 Z" fill="none" stroke="#1b2645" stroke-width="4.8" stroke-linejoin="round" stroke-linecap="round" pathLength="800" stroke-dasharray="556 81 163"/>
<circle cx="630.7" cy="341.4" r="19.3" fill="#fff" stroke="#1b2645" stroke-width="4.8"/>
</g>
<path d="M726.0 612.3 L973.5 610.5" stroke="#fdc649" stroke-width="4" fill="none"/>
<path d="M963.7 604.3 L973.5 610.5 L963.7 616.9" stroke="#fdc649" stroke-width="4" fill="none" stroke-linecap="round" stroke-linejoin="round"/>
<path d="M761.8 631.8 H750.9 V677.0 H761.8 M786.8 631.8 H797.7 V677.0 H786.8" stroke="#fdc649" stroke-width="3.8" fill="none"/>
<text x="760.6" y="643.9" font-family="Liberation Mono" font-weight="bold" font-size="11.7" fill="#fdc649" textLength="27.6" lengthAdjust="spacingAndGlyphs">010</text>
<text x="760.6" y="657.3" font-family="Liberation Mono" font-weight="bold" font-size="11.7" fill="#fdc649" textLength="27.6" lengthAdjust="spacingAndGlyphs">110</text>
<text x="760.6" y="670.7" font-family="Liberation Mono" font-weight="bold" font-size="11.7" fill="#fdc649" textLength="27.6" lengthAdjust="spacingAndGlyphs">001</text>
<path d="M834.0 631.8 H823.1 V677.0 H834.0 M859.0 631.8 H869.9000000000001 V677.0 H859.0" stroke="#fdc649" stroke-width="3.8" fill="none"/>
<text x="832.8000000000001" y="643.9" font-family="Liberation Mono" font-weight="bold" font-size="11.7" fill="#fdc649" textLength="27.6" lengthAdjust="spacingAndGlyphs">010</text>
<text x="832.8000000000001" y="657.3" font-family="Liberation Mono" font-weight="bold" font-size="11.7" fill="#fdc649" textLength="27.6" lengthAdjust="spacingAndGlyphs">110</text>
<text x="832.8000000000001" y="670.7" font-family="Liberation Mono" font-weight="bold" font-size="11.7" fill="#fdc649" textLength="27.6" lengthAdjust="spacingAndGlyphs">001</text>
<path d="M906.0999999999999 631.8 H895.1999999999999 V677.0 H906.0999999999999 M931.0999999999999 631.8 H942.0 V677.0 H931.0999999999999" stroke="#fdc649" stroke-width="3.8" fill="none"/>
<text x="904.9" y="643.9" font-family="Liberation Mono" font-weight="bold" font-size="11.7" fill="#fdc649" textLength="27.6" lengthAdjust="spacingAndGlyphs">010</text>
<text x="904.9" y="657.3" font-family="Liberation Mono" font-weight="bold" font-size="11.7" fill="#fdc649" textLength="27.6" lengthAdjust="spacingAndGlyphs">110</text>
<text x="904.9" y="670.7" font-family="Liberation Mono" font-weight="bold" font-size="11.7" fill="#fdc649" textLength="27.6" lengthAdjust="spacingAndGlyphs">001</text>
<rect x="976" y="515.3" width="384" height="191.3" fill="#fdc649"/>
<g stroke="#000" stroke-width="2" fill="none" stroke-linecap="round" stroke-linejoin="round">
<path d="M1047.1 624.3 V548.8 M1043.1 553.3 L1047.1 548.3 L1051.1 553.3"/>
<path d="M1047.1 624.3 H1121.6 M1117.1 620.3 L1122.1 624.3 L1117.1 628.3"/>
<path d="M1047.1 624.3 L1009.8 661.1999999999999 M1010.0999999999999 655.4 L1009.8 661.1999999999999 L1015.5999999999999 660.6999999999999"/>
</g>
<text x="1151.50" y="600.9" font-size="27.5" font-weight="bold" fill="#fff" textLength="150.00" lengthAdjust="spacingAndGlyphs" >Embedding</text>
<text x="1171.40" y="638.2" font-size="27.5" font-weight="bold" fill="#fff" textLength="109.60" lengthAdjust="spacingAndGlyphs" >(Vektor)</text>
<text x="440.00" y="469.8" font-size="44.4" font-weight="bold" fill="#000" textLength="397.80" lengthAdjust="spacingAndGlyphs" >Embedding-Modell</text>
<path d="M1360.0 289.0 L1470.9 440.5" stroke="#9b87f5" stroke-width="3.6" fill="none"/>
<path d="M1470.3 429.9 L1470.9 440.5 L1460.9 436.7" stroke="#9b87f5" stroke-width="3.6" fill="none" stroke-linecap="round" stroke-linejoin="round"/>
<path d="M1360.0 611.0 L1471.0 447.5" stroke="#fdc649" stroke-width="3.6" fill="none"/>
<path d="M1461.1 451.7 L1471.0 447.5 L1470.7 458.2" stroke="#fdc649" stroke-width="3.6" fill="none" stroke-linecap="round" stroke-linejoin="round"/>
<ellipse cx="1551.75" cy="376.2" rx="79.84999999999991" ry="16.5" fill="#a2a8b4"/>
<path d="M1471.9 391.9 A79.84999999999991 12.7 0 0 0 1631.6 391.9 V423.6 A79.84999999999991 14.5 0 0 1 1471.9 423.6 Z" fill="#a2a8b4"/>
<path d="M1471.9 437.3 A79.84999999999991 13.2 0 0 0 1631.6 437.3 V468.4 A79.84999999999991 15.9 0 0 1 1471.9 468.4 Z" fill="#a2a8b4"/>
<path d="M1471.9 483 A79.84999999999991 13.1 0 0 0 1631.6 483 V513.3 A79.84999999999991 17.1 0 0 1 1471.9 513.3 Z" fill="#a2a8b4"/>
<path d="M1631.6 444.7 L1693.5 444.7" stroke="#000" stroke-width="4" fill="none"/>
<path d="M1683.5 437.8 L1693.5 444.7 L1683.5 451.6" stroke="#000" stroke-width="4" fill="none" stroke-linecap="round" stroke-linejoin="round"/>
<text x="1436.90" y="601.7" font-size="27.5" font-weight="bold" fill="#000" textLength="241.60" lengthAdjust="spacingAndGlyphs" >Vektor-Datenbank</text>
<text x="1714.40" y="183.5" font-size="44.4" font-weight="bold" fill="#000" textLength="413.20" lengthAdjust="spacingAndGlyphs" >Ähnlichkeits-Suche</text>
<path d="M1975.0 572.7 L2100.8 643.1" stroke="#fdc649" stroke-width="6.5" fill="none"/>
<path d="M2094.3 627.9 L2100.8 643.1 L2084.4 645.5" stroke="#fdc649" stroke-width="6.5" fill="none" stroke-linecap="round" stroke-linejoin="round"/>
<path d="M1717.6 464.6 L1857.4 375.2" stroke="#9b87f5" stroke-width="6.5" fill="none"/>
<path d="M1840.9 373.8 L1857.4 375.2 L1851.8 390.8" stroke="#9b87f5" stroke-width="6.5" fill="none" stroke-linecap="round" stroke-linejoin="round"/>
<path d="M1860.1 373.5 L1934.2 373.5" stroke="#9b87f5" stroke-width="6.5" fill="none"/>
<path d="M1921.1 363.4 L1934.2 373.5 L1921.1 383.6" stroke="#9b87f5" stroke-width="6.5" fill="none" stroke-linecap="round" stroke-linejoin="round"/>
<path d="M1941.3 370.7 L2001.4 235.1" stroke="#9b87f5" stroke-width="6.5" fill="none"/>
<path d="M1986.9 243.0 L2001.4 235.1 L2005.3 251.2" stroke="#9b87f5" stroke-width="6.5" fill="none" stroke-linecap="round" stroke-linejoin="round"/>
<path d="M2098.9 403.2 L2148.9 262.9" stroke="#9b87f5" stroke-width="6.5" fill="none"/>
<path d="M2135.0 271.9 L2148.9 262.9 L2154.0 278.6" stroke="#9b87f5" stroke-width="6.5" fill="none" stroke-linecap="round" stroke-linejoin="round"/>
<path d="M2150.0 259.9 L2319.4 348.2" stroke="#9b87f5" stroke-width="6.5" fill="none"/>
<path d="M2312.4 333.2 L2319.4 348.2 L2303.1 351.1" stroke="#9b87f5" stroke-width="6.5" fill="none" stroke-linecap="round" stroke-linejoin="round"/>
<path d="M2322.2 349.7 L2257.5 214.1" stroke="#9b87f5" stroke-width="6.5" fill="none"/>
<path d="M2254.0 230.3 L2257.5 214.1 L2272.2 221.6" stroke="#9b87f5" stroke-width="6.5" fill="none" stroke-linecap="round" stroke-linejoin="round"/>
<path d="M1975.0 573.4 L2015.1 659.6" stroke="#9b87f5" stroke-width="6.5" fill="none"/>
<path d="M2018.8 643.5 L2015.1 659.6 L2000.5 652.0" stroke="#9b87f5" stroke-width="6.5" fill="none" stroke-linecap="round" stroke-linejoin="round"/>
<path d="M2016.5 646.7 L2196.9 519.0" stroke="#9b87f5" stroke-width="6.5" fill="none"/>
<path d="M2180.4 518.4 L2196.9 519.0 L2192.0 534.9" stroke="#9b87f5" stroke-width="6.5" fill="none" stroke-linecap="round" stroke-linejoin="round"/>
<path d="M2199.5 517.2 L1943.5 412.3" stroke="#9b87f5" stroke-width="6.5" fill="none"/>
<path d="M1951.8 426.6 L1943.5 412.3 L1959.4 407.9" stroke="#9b87f5" stroke-width="6.5" fill="none" stroke-linecap="round" stroke-linejoin="round"/>
<path d="M1715.6 461.8 L1855.3 400.5" stroke="#fdc649" stroke-width="6.5" fill="none"/>
<path d="M1839.2 396.5 L1855.3 400.5 L1847.3 415.0" stroke="#fdc649" stroke-width="6.5" fill="none" stroke-linecap="round" stroke-linejoin="round"/>
<path d="M1858.2 399.2 L1935.2 314.5" stroke="#fdc649" stroke-width="6.5" fill="none"/>
<path d="M1919.0 317.4 L1935.2 314.5 L1933.9 331.0" stroke="#fdc649" stroke-width="6.5" fill="none" stroke-linecap="round" stroke-linejoin="round"/>
<path d="M1938.5 310.1 L1938.5 208.4" stroke="#fdc649" stroke-width="6.5" fill="none"/>
<path d="M1928.4 221.5 L1938.5 208.4 L1948.6 221.5" stroke="#fdc649" stroke-width="6.5" fill="none" stroke-linecap="round" stroke-linejoin="round"/>
<path d="M2097.7 401.2 L2189.2 339.7" stroke="#fdc649" stroke-width="6.5" fill="none"/>
<path d="M2172.7 338.6 L2189.2 339.7 L2184.0 355.4" stroke="#fdc649" stroke-width="6.5" fill="none" stroke-linecap="round" stroke-linejoin="round"/>
<path d="M2191.9 337.9 L2359.9 389.6" stroke="#fdc649" stroke-width="6.5" fill="none"/>
<path d="M2350.4 376.1 L2359.9 389.6 L2344.5 395.4" stroke="#fdc649" stroke-width="6.5" fill="none" stroke-linecap="round" stroke-linejoin="round"/>
<path d="M2363.0 390.5 L2300.5 185.4" stroke="#fdc649" stroke-width="6.5" fill="none"/>
<path d="M2294.7 200.8 L2300.5 185.4 L2314.0 195.0" stroke="#fdc649" stroke-width="6.5" fill="none" stroke-linecap="round" stroke-linejoin="round"/>
<path d="M2103.6 644.7 L2102.9 437.3" stroke="#fdc649" stroke-width="6.5" fill="none"/>
<path d="M2092.9 450.4 L2102.9 437.3 L2113.1 450.4" stroke="#fdc649" stroke-width="6.5" fill="none" stroke-linecap="round" stroke-linejoin="round"/>
<path d="M2102.9 434.1 L1943.7 453.5" stroke="#fdc649" stroke-width="6.5" fill="none"/>
<path d="M1957.9 462.0 L1943.7 453.5 L1955.5 441.9" stroke="#fdc649" stroke-width="6.5" fill="none" stroke-linecap="round" stroke-linejoin="round"/>
<path d="M2336.5 495 C2584.5 743 2584.5 946 2343 1153" stroke="#000" stroke-width="4" fill="none"/>
<path d="M2336 1160 L2341.5 1143.5 L2352.5 1156 Z" fill="#000" stroke="#000" stroke-width="1.5" stroke-linejoin="round"/>
<rect x="1648" y="892.7" width="640" height="433" fill="#fff" stroke="#000" stroke-width="4"/>
<text x="1792.10" y="951.0" font-size="44.4" font-weight="bold" fill="#000" textLength="341.00" lengthAdjust="spacingAndGlyphs" >Suchergebnisse</text>
<rect x="1694.45" y="977.75" width="112.5" height="138.5" fill="#f0f0f0" stroke="#dfdfdf" stroke-width="3.5"/>
<line x1="1707.00" y1="994.3" x2="1760.70" y2="994.3" stroke="#000" stroke-width="4" stroke-linecap="round"/>
<line x1="1707.70" y1="1004" x2="1768.40" y2="1004" stroke="#000" stroke-width="4" stroke-linecap="round"/>
<line x1="1708.00" y1="1014" x2="1745.40" y2="1014" stroke="#000" stroke-width="4" stroke-linecap="round"/>
<line x1="1708.00" y1="1030" x2="1765.00" y2="1030" stroke="#000" stroke-width="4" stroke-linecap="round"/>
<line x1="1709.40" y1="1038.3" x2="1786.70" y2="1038.3" stroke="#000" stroke-width="4" stroke-linecap="round"/>
<line x1="1709.40" y1="1048" x2="1771.70" y2="1048" stroke="#000" stroke-width="4" stroke-linecap="round"/>
<line x1="1708.70" y1="1065" x2="1750.70" y2="1065" stroke="#000" stroke-width="4" stroke-linecap="round"/>
<line x1="1709.40" y1="1074" x2="1781.70" y2="1074" stroke="#000" stroke-width="4" stroke-linecap="round"/>
<line x1="1708.70" y1="1081.7" x2="1768.40" y2="1081.7" stroke="#000" stroke-width="4" stroke-linecap="round"/>
<line x1="1708.70" y1="1090.7" x2="1779.00" y2="1090.7" stroke="#000" stroke-width="4" stroke-linecap="round"/>
<rect x="1845.20" y="977.75" width="112.5" height="138.5" fill="#f0f0f0" stroke="#dfdfdf" stroke-width="3.5"/>
<line x1="1857.75" y1="994.3" x2="1911.45" y2="994.3" stroke="#000" stroke-width="4" stroke-linecap="round"/>
<line x1="1858.45" y1="1004" x2="1919.15" y2="1004" stroke="#000" stroke-width="4" stroke-linecap="round"/>
<line x1="1858.75" y1="1014" x2="1896.15" y2="1014" stroke="#000" stroke-width="4" stroke-linecap="round"/>
<line x1="1858.75" y1="1030" x2="1915.75" y2="1030" stroke="#000" stroke-width="4" stroke-linecap="round"/>
<line x1="1860.15" y1="1038.3" x2="1937.45" y2="1038.3" stroke="#000" stroke-width="4" stroke-linecap="round"/>
<line x1="1860.15" y1="1048" x2="1922.45" y2="1048" stroke="#000" stroke-width="4" stroke-linecap="round"/>
<line x1="1859.45" y1="1065" x2="1901.45" y2="1065" stroke="#000" stroke-width="4" stroke-linecap="round"/>
<line x1="1860.15" y1="1074" x2="1932.45" y2="1074" stroke="#000" stroke-width="4" stroke-linecap="round"/>
<line x1="1859.45" y1="1081.7" x2="1919.15" y2="1081.7" stroke="#000" stroke-width="4" stroke-linecap="round"/>
<line x1="1859.45" y1="1090.7" x2="1929.75" y2="1090.7" stroke="#000" stroke-width="4" stroke-linecap="round"/>
<rect x="1995.95" y="977.75" width="112.5" height="138.5" fill="#f0f0f0" stroke="#dfdfdf" stroke-width="3.5"/>
<line x1="2008.50" y1="994.3" x2="2062.20" y2="994.3" stroke="#000" stroke-width="4" stroke-linecap="round"/>
<line x1="2009.20" y1="1004" x2="2069.90" y2="1004" stroke="#000" stroke-width="4" stroke-linecap="round"/>
<line x1="2009.50" y1="1014" x2="2046.90" y2="1014" stroke="#000" stroke-width="4" stroke-linecap="round"/>
<line x1="2009.50" y1="1030" x2="2066.50" y2="1030" stroke="#000" stroke-width="4" stroke-linecap="round"/>
<line x1="2010.90" y1="1038.3" x2="2088.20" y2="1038.3" stroke="#000" stroke-width="4" stroke-linecap="round"/>
<line x1="2010.90" y1="1048" x2="2073.20" y2="1048" stroke="#000" stroke-width="4" stroke-linecap="round"/>
<line x1="2010.20" y1="1065" x2="2052.20" y2="1065" stroke="#000" stroke-width="4" stroke-linecap="round"/>
<line x1="2010.90" y1="1074" x2="2083.20" y2="1074" stroke="#000" stroke-width="4" stroke-linecap="round"/>
<line x1="2010.20" y1="1081.7" x2="2069.90" y2="1081.7" stroke="#000" stroke-width="4" stroke-linecap="round"/>
<line x1="2010.20" y1="1090.7" x2="2080.50" y2="1090.7" stroke="#000" stroke-width="4" stroke-linecap="round"/>
<rect x="2146.70" y="977.75" width="112.5" height="138.5" fill="#f0f0f0" stroke="#dfdfdf" stroke-width="3.5"/>
<line x1="2159.25" y1="994.3" x2="2212.95" y2="994.3" stroke="#000" stroke-width="4" stroke-linecap="round"/>
<line x1="2159.95" y1="1004" x2="2220.65" y2="1004" stroke="#000" stroke-width="4" stroke-linecap="round"/>
<line x1="2160.25" y1="1014" x2="2197.65" y2="1014" stroke="#000" stroke-width="4" stroke-linecap="round"/>
<line x1="2160.25" y1="1030" x2="2217.25" y2="1030" stroke="#000" stroke-width="4" stroke-linecap="round"/>
<line x1="2161.65" y1="1038.3" x2="2238.95" y2="1038.3" stroke="#000" stroke-width="4" stroke-linecap="round"/>
<line x1="2161.65" y1="1048" x2="2223.95" y2="1048" stroke="#000" stroke-width="4" stroke-linecap="round"/>
<line x1="2160.95" y1="1065" x2="2202.95" y2="1065" stroke="#000" stroke-width="4" stroke-linecap="round"/>
<line x1="2161.65" y1="1074" x2="2233.95" y2="1074" stroke="#000" stroke-width="4" stroke-linecap="round"/>
<line x1="2160.95" y1="1081.7" x2="2220.65" y2="1081.7" stroke="#000" stroke-width="4" stroke-linecap="round"/>
<line x1="2160.95" y1="1090.7" x2="2231.25" y2="1090.7" stroke="#000" stroke-width="4" stroke-linecap="round"/>
<rect x="1694.45" y="1137.75" width="112.5" height="138.5" fill="#f0f0f0" stroke="#dfdfdf" stroke-width="3.5"/>
<line x1="1707.00" y1="1154.3" x2="1760.70" y2="1154.3" stroke="#000" stroke-width="4" stroke-linecap="round"/>
<line x1="1707.70" y1="1164" x2="1768.40" y2="1164" stroke="#000" stroke-width="4" stroke-linecap="round"/>
<line x1="1708.00" y1="1174" x2="1745.40" y2="1174" stroke="#000" stroke-width="4" stroke-linecap="round"/>
<line x1="1708.00" y1="1190" x2="1765.00" y2="1190" stroke="#000" stroke-width="4" stroke-linecap="round"/>
<line x1="1709.40" y1="1198.3" x2="1786.70" y2="1198.3" stroke="#000" stroke-width="4" stroke-linecap="round"/>
<line x1="1709.40" y1="1208" x2="1771.70" y2="1208" stroke="#000" stroke-width="4" stroke-linecap="round"/>
<line x1="1708.70" y1="1225" x2="1750.70" y2="1225" stroke="#000" stroke-width="4" stroke-linecap="round"/>
<line x1="1709.40" y1="1234" x2="1781.70" y2="1234" stroke="#000" stroke-width="4" stroke-linecap="round"/>
<line x1="1708.70" y1="1241.7" x2="1768.40" y2="1241.7" stroke="#000" stroke-width="4" stroke-linecap="round"/>
<line x1="1708.70" y1="1250.7" x2="1779.00" y2="1250.7" stroke="#000" stroke-width="4" stroke-linecap="round"/>
<rect x="1845.20" y="1137.75" width="112.5" height="138.5" fill="#f0f0f0" stroke="#dfdfdf" stroke-width="3.5"/>
<line x1="1857.75" y1="1154.3" x2="1911.45" y2="1154.3" stroke="#000" stroke-width="4" stroke-linecap="round"/>
<line x1="1858.45" y1="1164" x2="1919.15" y2="1164" stroke="#000" stroke-width="4" stroke-linecap="round"/>
<line x1="1858.75" y1="1174" x2="1896.15" y2="1174" stroke="#000" stroke-width="4" stroke-linecap="round"/>
<line x1="1858.75" y1="1190" x2="1915.75" y2="1190" stroke="#000" stroke-width="4" stroke-linecap="round"/>
<line x1="1860.15" y1="1198.3" x2="1937.45" y2="1198.3" stroke="#000" stroke-width="4" stroke-linecap="round"/>
<line x1="1860.15" y1="1208" x2="1922.45" y2="1208" stroke="#000" stroke-width="4" stroke-linecap="round"/>
<line x1="1859.45" y1="1225" x2="1901.45" y2="1225" stroke="#000" stroke-width="4" stroke-linecap="round"/>
<line x1="1860.15" y1="1234" x2="1932.45" y2="1234" stroke="#000" stroke-width="4" stroke-linecap="round"/>
<line x1="1859.45" y1="1241.7" x2="1919.15" y2="1241.7" stroke="#000" stroke-width="4" stroke-linecap="round"/>
<line x1="1859.45" y1="1250.7" x2="1929.75" y2="1250.7" stroke="#000" stroke-width="4" stroke-linecap="round"/>
<rect x="1995.95" y="1137.75" width="112.5" height="138.5" fill="#f0f0f0" stroke="#dfdfdf" stroke-width="3.5"/>
<line x1="2008.50" y1="1154.3" x2="2062.20" y2="1154.3" stroke="#000" stroke-width="4" stroke-linecap="round"/>
<line x1="2009.20" y1="1164" x2="2069.90" y2="1164" stroke="#000" stroke-width="4" stroke-linecap="round"/>
<line x1="2009.50" y1="1174" x2="2046.90" y2="1174" stroke="#000" stroke-width="4" stroke-linecap="round"/>
<line x1="2009.50" y1="1190" x2="2066.50" y2="1190" stroke="#000" stroke-width="4" stroke-linecap="round"/>
<line x1="2010.90" y1="1198.3" x2="2088.20" y2="1198.3" stroke="#000" stroke-width="4" stroke-linecap="round"/>
<line x1="2010.90" y1="1208" x2="2073.20" y2="1208" stroke="#000" stroke-width="4" stroke-linecap="round"/>
<line x1="2010.20" y1="1225" x2="2052.20" y2="1225" stroke="#000" stroke-width="4" stroke-linecap="round"/>
<line x1="2010.90" y1="1234" x2="2083.20" y2="1234" stroke="#000" stroke-width="4" stroke-linecap="round"/>
<line x1="2010.20" y1="1241.7" x2="2069.90" y2="1241.7" stroke="#000" stroke-width="4" stroke-linecap="round"/>
<line x1="2010.20" y1="1250.7" x2="2080.50" y2="1250.7" stroke="#000" stroke-width="4" stroke-linecap="round"/>
<rect x="2146.70" y="1137.75" width="112.5" height="138.5" fill="#f0f0f0" stroke="#dfdfdf" stroke-width="3.5"/>
<line x1="2159.25" y1="1154.3" x2="2212.95" y2="1154.3" stroke="#000" stroke-width="4" stroke-linecap="round"/>
<line x1="2159.95" y1="1164" x2="2220.65" y2="1164" stroke="#000" stroke-width="4" stroke-linecap="round"/>
<line x1="2160.25" y1="1174" x2="2197.65" y2="1174" stroke="#000" stroke-width="4" stroke-linecap="round"/>
<line x1="2160.25" y1="1190" x2="2217.25" y2="1190" stroke="#000" stroke-width="4" stroke-linecap="round"/>
<line x1="2161.65" y1="1198.3" x2="2238.95" y2="1198.3" stroke="#000" stroke-width="4" stroke-linecap="round"/>
<line x1="2161.65" y1="1208" x2="2223.95" y2="1208" stroke="#000" stroke-width="4" stroke-linecap="round"/>
<line x1="2160.95" y1="1225" x2="2202.95" y2="1225" stroke="#000" stroke-width="4" stroke-linecap="round"/>
<line x1="2161.65" y1="1234" x2="2233.95" y2="1234" stroke="#000" stroke-width="4" stroke-linecap="round"/>
<line x1="2160.95" y1="1241.7" x2="2220.65" y2="1241.7" stroke="#000" stroke-width="4" stroke-linecap="round"/>
<line x1="2160.95" y1="1250.7" x2="2231.25" y2="1250.7" stroke="#000" stroke-width="4" stroke-linecap="round"/>
<text x="956.20" y="864.7" font-size="44.4" font-weight="bold" fill="#000" textLength="422.20" lengthAdjust="spacingAndGlyphs" >Sprachmodell (LLM)</text>
<text x="857.70" y="1088.6" font-size="27.5" font-weight="bold" fill="#000" textLength="89.40" lengthAdjust="spacingAndGlyphs" >Output</text>
<text x="1438.00" y="1088.6" font-size="27.5" font-weight="bold" fill="#000" textLength="67.50" lengthAdjust="spacingAndGlyphs" >Input</text>
<path d="M1037 1106.5 H768" stroke="#000" stroke-width="4" fill="none"/>
<path d="M756.5 1106.5 L769 1098.5 V1114.5 Z" fill="#000" stroke="#000" stroke-width="1.5" stroke-linejoin="round"/>
<path d="M1647 1109 L1310 1107" stroke="#000" stroke-width="4" fill="none"/>
<path d="M1299 1107 L1311.5 1099 V1115 Z" fill="#000" stroke="#000" stroke-width="1.5" stroke-linejoin="round"/>
<g transform="translate(1020,960) scale(0.208333)" fill="none" stroke="#151515" stroke-width="52" stroke-linecap="round" stroke-linejoin="round">
<path d="M815 210 L775 105 H650 L612 200 Q510 225 430 272 L330 237 L245 325 L290 415 Q235 500 215 605 L110 648 V757 L215 800 Q235 905 290 990 L245 1080 L330 1168 L430 1133 Q510 1180 612 1205 L650 1300 H775 L815 1195"/>
<circle cx="590" cy="325" r="48"/>
<circle cx="508" cy="562" r="48"/>
<circle cx="375" cy="703" r="48"/>
<circle cx="508" cy="855" r="48"/>
<circle cx="590" cy="1083" r="48"/>
<path d="M590 373 V425 L690 525 H805"/>
<path d="M556 558 H600 L658 612 H805"/>
<path d="M423 703 H1250"/>
<path d="M556 848 H600 L658 794 H805"/>
<path d="M590 1035 V982 L690 882 H805"/>
<path d="M995 640 C950 715 810 710 810 600 V364 A95 95 0 0 1 1000 347 M988 310 Q1070 325 1095 395 Q1190 395 1215 505 Q1300 545 1290 620 Q1280 690 1200 703 M1003 352 Q1010 398 980 432 M1218 510 Q1215 550 1175 578"/>
<path d="M995 640 C950 715 810 710 810 600 V364 A95 95 0 0 1 1000 347 M988 310 Q1070 325 1095 395 Q1190 395 1215 505 Q1300 545 1290 620 Q1280 690 1200 703 M1003 352 Q1010 398 980 432 M1218 510 Q1215 550 1175 578" transform="translate(0,1406) scale(1,-1)"/>
<path d="M840 703 L990 660 V746 Z" fill="#111" stroke="none"/>
</g>
<text x="210.10" y="865.1" font-size="44.4" font-weight="bold" fill="#000" textLength="466.50" lengthAdjust="spacingAndGlyphs" >KI-Zusammenfassung</text>
<text x="163.60" y="958.1" font-size="31.7" font-weight="normal" fill="#000" textLength="559.70" lengthAdjust="spacingAndGlyphs" >Die Klimapolitik der Bundesregierung</text>
<text x="193.40" y="998.1" font-size="31.7" font-weight="normal" fill="#000" textLength="500.60" lengthAdjust="spacingAndGlyphs" >zielt darauf ab, bis 2030 80% der</text>
<text x="173.20" y="1038.0" font-size="31.7" font-weight="normal" fill="#000" textLength="541.30" lengthAdjust="spacingAndGlyphs" >Stromversorgung aus erneuerbaren</text>
<text x="148.00" y="1078.0" font-size="31.7" font-weight="normal" fill="#000" textLength="591.50" lengthAdjust="spacingAndGlyphs" >Energien zu beziehen, mit dem Ziel, bis</text>
<text x="157.40" y="1117.9" font-size="31.7" font-weight="normal" fill="#000" textLength="572.30" lengthAdjust="spacingAndGlyphs" >2035 nahezu klimaneutral zu sein. Die</text>
<text x="240.60" y="1157.8" font-size="31.7" font-weight="normal" fill="#000" textLength="405.90" lengthAdjust="spacingAndGlyphs" >Strategie umfasst auch die</text>
<text x="176.40" y="1197.8" font-size="31.7" font-weight="normal" fill="#000" textLength="534.20" lengthAdjust="spacingAndGlyphs" >Positionierung und Versorgung von</text>
<text x="169.80" y="1237.8" font-size="31.7" font-weight="normal" fill="#000" textLength="546.60" lengthAdjust="spacingAndGlyphs" >Kraftwerken, die Teil der Gespräche</text>
<text x="221.00" y="1277.7" font-size="31.7" font-weight="normal" fill="#000" textLength="445.70" lengthAdjust="spacingAndGlyphs" >innerhalb der Regierung sind.</text>
<path d="M114 1311 V1358.7 H1362.5 V1311" fill="none" stroke="#a2a8b4" stroke-width="4"/>
<text x="467.60" y="1394.5" font-size="25.3" font-weight="bold" fill="#a2a8b4" textLength="515.00" lengthAdjust="spacingAndGlyphs" >Retrieval Augmented Generation (RAG)</text>
</svg></body></html>
